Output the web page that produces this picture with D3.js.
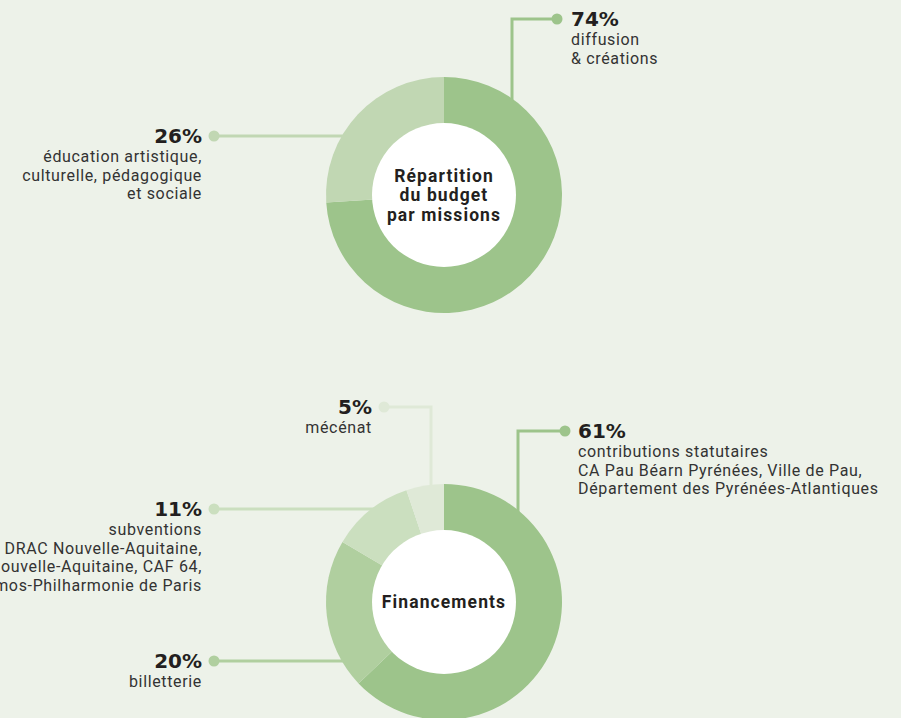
<!DOCTYPE html>
<html><head><meta charset="utf-8">
<script src="https://cdn.jsdelivr.net/npm/d3@7"></script>
<style>
html,body{margin:0;padding:0;background:#edf2e9;}
svg{display:block;}
</style></head>
<body>
<svg id="chart" width="901" height="718"></svg>
<script>
// Data
const budgetLabels = ["diffusion & créations", "éducation artistique, culturelle, pédagogique et sociale"];
const budgetValues = [74, 26];
const budgetColors = ["#9dc48b", "#c1d7b3"];

const finLabels = ["contributions statutaires", "billetterie", "subventions", "mécénat"];
const finValues = [61, 20, 11, 5];
const finColors = ["#9dc48b", "#b0cf9f", "#cbdfbf", "#dfe9d7"];

const budgetText = [
  ["74%", "diffusion", "& créations"],
  ["26%", "éducation artistique,", "culturelle, pédagogique", "et sociale"]
];
const finText = [
  ["61%", "contributions statutaires", "CA Pau Béarn Pyrénées, Ville de Pau,", "Département des Pyrénées-Atlantiques"],
  ["20%", "billetterie"],
  ["11%", "subventions", "DRAC Nouvelle-Aquitaine,", "Région Nouvelle-Aquitaine, CAF 64,", "Démos-Philharmonie de Paris"],
  ["5%", "mécénat"]
];

const svg = d3.select("#chart");
const R = 118, r = 72;
const pie = d3.pie().sort(null).value(d => d);
const arc = d3.arc().innerRadius(0).outerRadius(R);

function donut(cx, cy, values, colors, title) {
  const g = svg.append("g").attr("transform", `translate(${cx},${cy})`);
  g.selectAll("path").data(pie(values)).join("path")
    .attr("d", arc).attr("fill", (d, i) => colors[i]);
  g.append("circle").attr("r", r).attr("fill", "#ffffff");
  const t = g.append("text").attr("text-anchor", "middle")
    .attr("font-family", "Roboto, sans-serif").attr("font-weight", 700)
    .attr("font-size", 17.5).attr("fill", "#231f20").attr("letter-spacing", 1.1);
  const lh = 19.5;
  const y0 = -(title.length - 1) * lh / 2 + 6;
  title.forEach((s, i) => t.append("tspan").attr("x", 0).attr("y", y0 + i * lh).text(s));
}

// connector: points is polyline in absolute coords, dot at the last point
function connector(pts, color) {
  svg.append("path").attr("d", d3.line()(pts)).attr("fill", "none")
    .attr("stroke", color).attr("stroke-width", 3);
  const p = pts[pts.length - 1];
  svg.append("circle").attr("cx", p[0]).attr("cy", p[1]).attr("r", 5.5).attr("fill", color);
}

function label(x, y, lines, anchor) {
  const t = svg.append("text").attr("text-anchor", anchor).attr("fill", "#333333")
    .attr("font-family", "Roboto, sans-serif");
  t.append("tspan").attr("x", x).attr("y", y).attr("font-size", 20).attr("font-weight", 700)
    .attr("font-family", "'DejaVu Sans', sans-serif")
    .attr("fill", "#231f20").text(lines[0]);
  lines.slice(1).forEach((s, i) => t.append("tspan").attr("x", x).attr("y", y + 19 + i * 18.7)
    .attr("font-size", 16).attr("letter-spacing", 0.65).attr("font-weight", 400).text(s));
}

function edgeY(cx, cy, x, sign) { return cy + sign * Math.sqrt(R * R - (x - cx) * (x - cx)); }
function edgeX(cx, cy, y, sign) { return cx + sign * Math.sqrt(R * R - (y - cy) * (y - cy)); }

// Top donut
const c1 = [444, 195];
connector([[512, edgeY(c1[0], c1[1], 512, -1) + 3], [512, 19], [557, 19]], budgetColors[0]);
connector([[edgeX(c1[0], c1[1], 136, -1) + 3, 136], [214, 136]], budgetColors[1]);
donut(c1[0], c1[1], budgetValues, budgetColors, ["Répartition", "du budget", "par missions"]);
label(571, 26, budgetText[0], "start");
label(202, 143, budgetText[1], "end");

// Bottom donut
const c2 = [444, 602];
connector([[518, edgeY(c2[0], c2[1], 518, -1) + 3], [518, 431], [565, 431]], finColors[0]);
connector([[edgeX(c2[0], c2[1], 661, -1) + 3, 661], [214, 661]], finColors[1]);
connector([[edgeX(c2[0], c2[1], 509, -1) + 3, 509], [214, 509]], finColors[2]);
connector([[431, edgeY(c2[0], c2[1], 431, -1) + 3], [431, 407], [384, 407]], finColors[3]);
donut(c2[0], c2[1], finValues, finColors, ["Financements"]);
label(578, 438, finText[0], "start");
label(202, 668, finText[1], "end");
label(202, 516, finText[2], "end");
label(372, 414, finText[3], "end");
</script>
</body></html>
